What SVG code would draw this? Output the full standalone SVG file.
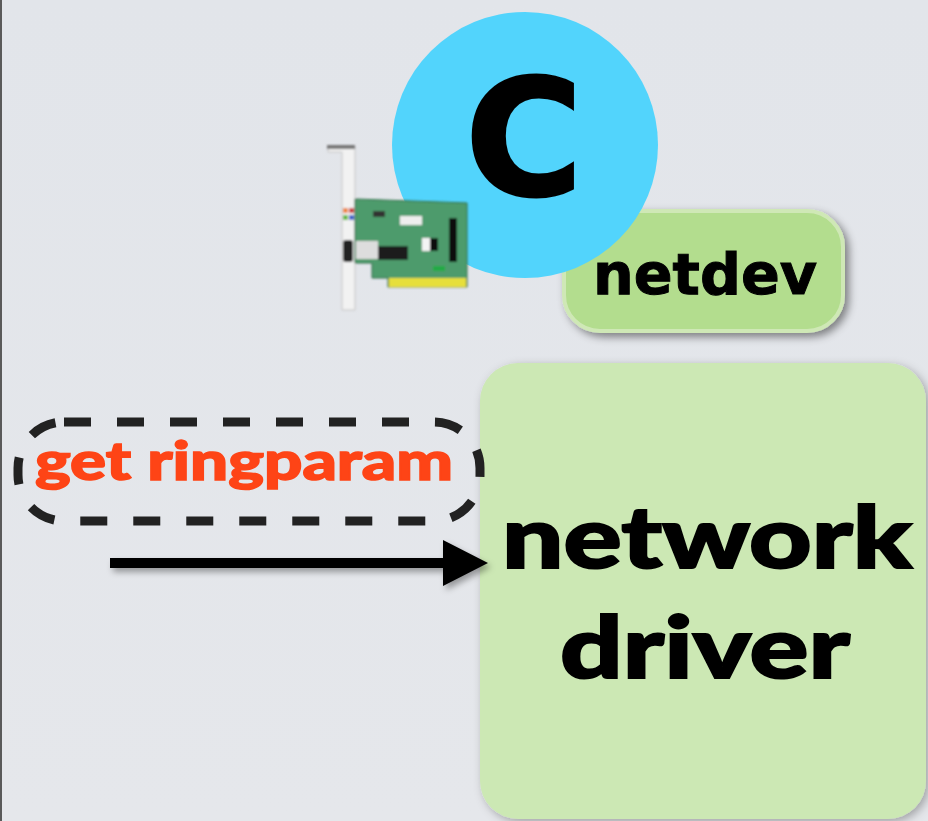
<svg xmlns="http://www.w3.org/2000/svg" width="928" height="821" viewBox="0 0 928 821">
  <defs>
    <linearGradient id="bg" x1="0" y1="0" x2="0" y2="1">
      <stop offset="0" stop-color="#e2e5ea"/>
      <stop offset="1" stop-color="#e5e7eb"/>
    </linearGradient>
    <filter id="shadow" x="-10%" y="-10%" width="130%" height="130%">
      <feDropShadow dx="4" dy="4" stdDeviation="4" flood-color="#000" flood-opacity="0.45"/>
    </filter>
    <filter id="softShadow" x="-10%" y="-10%" width="130%" height="130%">
      <feDropShadow dx="3" dy="3" stdDeviation="5" flood-color="#000" flood-opacity="0.3"/>
    </filter>
    <filter id="arrowShadow" filterUnits="userSpaceOnUse" x="90" y="520" width="420" height="90">
      <feDropShadow dx="3" dy="4" stdDeviation="3" flood-color="#000" flood-opacity="0.35"/>
    </filter>
    <filter id="blurCard" x="-5%" y="-5%" width="110%" height="110%">
      <feGaussianBlur stdDeviation="0.8"/>
    </filter>
  </defs>
  <style>
    .bold-sans { font-family: "DejaVu Sans", Verdana, sans-serif; font-weight: bold; fill: #000; }
    .humanist { font-family: Lato, "Open Sans", sans-serif; font-weight: 900; }
    .box-green { fill: #b3dd8e; stroke: #cfe8b6; stroke-width: 4; }
    .box-driver { fill: #cce8b4; }
    .dashed { fill: none; stroke: #222; stroke-width: 9; stroke-dasharray: 27 26; }
  </style>

  <!-- slide background -->
  <rect x="0" y="0" width="928" height="821" fill="url(#bg)"/>
  <rect x="0" y="0" width="2" height="821" fill="#5a5a5a"/>

  <!-- netdev box -->
  <g id="netdev">
    <rect class="box-green" x="564" y="211" width="279" height="120" rx="36" filter="url(#shadow)"/>
    <text class="bold-sans" x="705" y="294" font-size="57" text-anchor="middle" textLength="224" lengthAdjust="spacingAndGlyphs" stroke="#000" stroke-width="1">netdev</text>
  </g>

  <!-- C language badge -->
  <g id="lang-c">
    <circle cx="525" cy="145" r="133" fill="#52d4fc"/>
    <text class="bold-sans" x="524" y="195" font-size="160" text-anchor="middle" stroke="#000" stroke-width="3">C</text>
  </g>

  <!-- network card icon -->
  <g id="nic" filter="url(#blurCard)">
    <!-- bracket -->
    <path d="M328,146 L355,146 L355,310 L342,310 L342,152 L328,152 Z" fill="#f2f2f2" stroke="#c4c4c4" stroke-width="1"/>
    <rect x="327" y="145" width="28" height="4" fill="#777"/>
    <rect x="343" y="240" width="10" height="22" rx="3" fill="#222"/>
    <rect x="343" y="208" width="5" height="5" fill="#e84"/>
    <rect x="349" y="208" width="5" height="5" fill="#c44"/>
    <rect x="343" y="215" width="5" height="5" fill="#6b4"/>
    <rect x="349" y="215" width="5" height="5" fill="#46c"/>
    <!-- board -->
    <path d="M355,199 L467,203 L467,287 L388,287 L388,278 L372,278 L372,263 L355,263 Z" fill="#4e9b6c" stroke="#2f6b47" stroke-width="1"/>
    <rect x="389" y="278" width="77" height="9" fill="#e6df3a"/>
    <rect x="356" y="241" width="22" height="18" fill="#ddd"/>
    <rect x="378" y="246" width="30" height="14" fill="#1e1e1e"/>
    <rect x="400" y="216" width="22" height="9" fill="#eee"/>
    <rect x="422" y="238" width="8" height="13" fill="#f4f4f4"/>
    <rect x="430" y="238" width="8" height="13" fill="#111"/>
    <rect x="449" y="218" width="8" height="44" fill="#111"/>
    <rect x="373" y="211" width="12" height="6" fill="#333"/>
    <rect x="433" y="266" width="12" height="5" fill="#2a4"/>
  </g>

  <!-- network driver box -->
  <g id="driver">
    <rect class="box-driver" x="480" y="363" width="446" height="456" rx="38" filter="url(#softShadow)"/>
    <text class="humanist" x="707" y="568" font-size="86" text-anchor="middle" textLength="410" lengthAdjust="spacingAndGlyphs" fill="#000" stroke="#000" stroke-width="2">network</text>
    <text class="humanist" x="705" y="678" font-size="86" text-anchor="middle" textLength="290" lengthAdjust="spacingAndGlyphs" fill="#000" stroke="#000" stroke-width="2">driver</text>
  </g>

  <!-- operation label -->
  <g id="get-ringparam">
    <rect class="dashed" x="18" y="422" width="462" height="99" rx="46"/>
    <text class="humanist" x="244" y="480" font-size="54" text-anchor="middle" textLength="418" lengthAdjust="spacingAndGlyphs" fill="#fe4416" stroke="#fe4416" stroke-width="1.5">get ringparam</text>
  </g>

  <!-- connectors -->
  <g id="connectors" filter="url(#arrowShadow)">
    <path d="M110,558 L443,558 L443,540 L488,563 L443,586 L443,568 L110,568 Z" fill="#000"/>
  </g>
</svg>
